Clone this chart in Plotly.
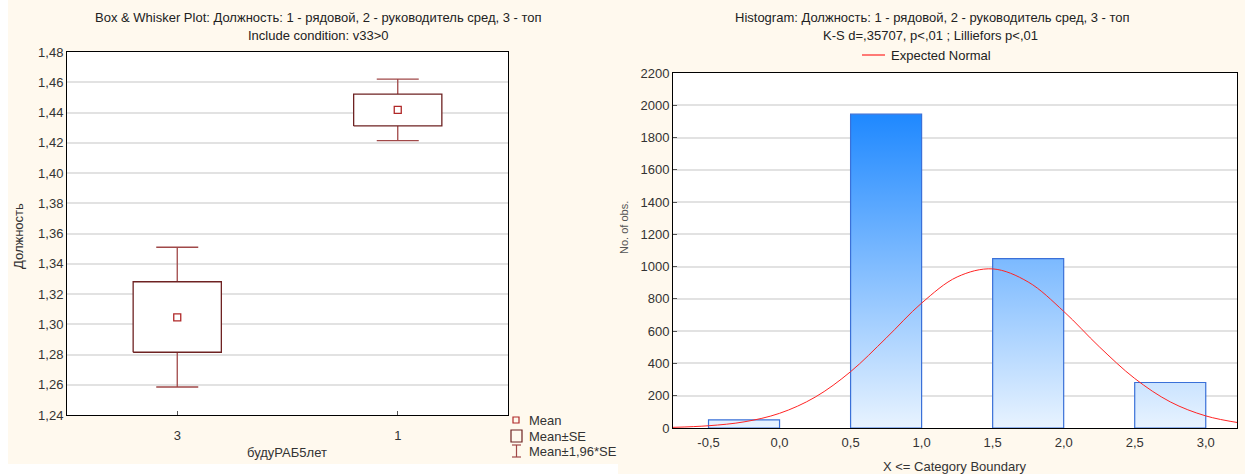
import plotly.graph_objects as go

W, H = 1245, 474

# ---------------- data ----------------
box_categories = ["3", "1"]
box_means = [1.3046, 1.4417]
box_se_lo = [1.2815, 1.4311]
box_se_hi = [1.3281, 1.4522]
box_wh_lo = [1.2585, 1.4214]
box_wh_hi = [1.3509, 1.4620]
box_y_ticks = [1.24, 1.26, 1.28, 1.30, 1.32, 1.34, 1.36, 1.38, 1.40, 1.42, 1.44, 1.46, 1.48]

hist_lo = [-0.5, 0.5, 1.5, 2.5]
hist_hi = [0.0, 1.0, 2.0, 3.0]
hist_counts = [50, 1945, 1050, 282]
hist_x_ticks = [-0.5, 0.0, 0.5, 1.0, 1.5, 2.0, 2.5, 3.0]
hist_x_ticktext = ["-0,5", "0,0", "0,5", "1,0", "1,5", "2,0", "2,5", "3,0"]

normal_x = [-0.75, -0.5, -0.25, 0.0, 0.25, 0.5, 0.75, 1.0, 1.25, 1.5, 1.75,
            2.0, 2.25, 2.5, 2.75, 3.0, 3.25]
normal_y = [4, 14, 38, 91, 191, 349, 557, 774, 936, 986, 905,
            723, 504, 307, 162, 75, 30]

FONT = "Liberation Sans, Arial, sans-serif"
CREAM = "#FFF9EE"
BOX_C = "#6E2222"
WH_C = "#A04848"
MEAN_C = "#B02828"


def px(x):
    return x / W


def py(y):
    return 1 - y / H


fig = go.Figure()

# ---------- box & whisker (left) ----------
half = 0.2
xs, ys = [], []
for i in range(len(box_categories)):
    xs += [i - half, i + half, i + half, i - half, i - half, None]
    ys += [box_se_lo[i], box_se_lo[i], box_se_hi[i], box_se_hi[i], box_se_lo[i], None]

fig.add_trace(go.Scatter(
    x=list(range(len(box_categories))), y=box_means, mode="markers",
    marker=dict(size=1, color="rgba(0,0,0,0)"),
    error_y=dict(type="data", symmetric=False,
                 array=[h - m for h, m in zip(box_wh_hi, box_means)],
                 arrayminus=[m - l for m, l in zip(box_means, box_wh_lo)],
                 color=WH_C, thickness=1.3, width=21),
    xaxis="x", yaxis="y", showlegend=False, hoverinfo="skip"))

fig.add_trace(go.Scatter(
    x=xs, y=ys, mode="lines", fill="toself", fillcolor="white",
    line=dict(color=BOX_C, width=1.3), xaxis="x", yaxis="y",
    showlegend=False, hoverinfo="skip"))

fig.add_trace(go.Scatter(
    x=list(range(len(box_categories))), y=box_means, mode="markers",
    marker=dict(symbol="square-open", size=7, color=MEAN_C, line=dict(width=1.3)),
    xaxis="x", yaxis="y", showlegend=False))

# ---------- histogram (right) ----------
hx, hy = [], []
for lo, hi, c in zip(hist_lo, hist_hi, hist_counts):
    hx += [lo, lo, hi, hi, lo, None]
    hy += [0, c, c, 0, 0, None]

fig.add_trace(go.Scatter(
    x=hx, y=hy, mode="lines", fill="toself",
    fillgradient=dict(type="vertical", start=0, stop=1950,
                      colorscale=[[0, "#E8F3FF"], [1, "#1E88FF"]]),
    line=dict(color="#3A70D8", width=1.2),
    xaxis="x2", yaxis="y2", showlegend=False, hoverinfo="skip"))

fig.add_trace(go.Scatter(
    x=normal_x, y=normal_y, mode="lines", line=dict(color="#FF2424", width=1, shape="spline"),
    xaxis="x2", yaxis="y2", showlegend=False, name="Expected Normal"))

# ---------- layout ----------
axis_common = dict(showline=True, linecolor="#000", linewidth=1, mirror=True,
                   tickfont=dict(family=FONT, size=13, color="#333"), zeroline=False,
                   automargin=False)

fig.update_layout(
    width=W, height=H, margin=dict(l=0, r=0, t=0, b=0, pad=0, autoexpand=False),
    paper_bgcolor=CREAM, plot_bgcolor="white", showlegend=False,
    separators=",.", font=dict(family=FONT, size=13, color="#222"),
    xaxis=dict(domain=[px(67), px(508)], range=[-0.5, 1.5],
               tickvals=list(range(len(box_categories))), ticktext=box_categories,
               ticks="inside", ticklen=4, tickcolor="#555", showgrid=False,
               ticklabelstandoff=8, anchor="y", **axis_common),
    yaxis=dict(domain=[py(415), py(52)], range=[1.24, 1.48],
               tickvals=box_y_ticks, tickformat=".2f", ticks="",
               showgrid=True, gridcolor="#E2E2E2", gridwidth=1.5, anchor="x",
               **axis_common),
    xaxis2=dict(domain=[px(673), px(1237)], range=[-0.75, 3.22],
                tickvals=hist_x_ticks, ticktext=hist_x_ticktext,
                ticks="", showgrid=False, anchor="y2", ticklabelstandoff=2,
                **axis_common),
    yaxis2=dict(domain=[py(428), py(73)], range=[0, 2200], dtick=200,
                ticks="inside", ticklen=4, tickcolor="#555",
                showgrid=True, gridcolor="#E2E2E2", gridwidth=1.5, anchor="x2",
                **axis_common),
)

ann = []


def text(x, y, s, size=13, color="#222", angle=0, xanchor="center"):
    ann.append(dict(x=px(x), y=py(y), xref="paper", yref="paper", text=s, showarrow=False,
                    font=dict(family=FONT, size=size, color=color), textangle=angle,
                    xanchor=xanchor, yanchor="middle"))


text(318, 17, "Box & Whisker Plot: Должность: 1 - рядовой, 2 - руководитель сред, 3 - топ")
text(318, 36, "Include condition: v33&gt;0")
text(287, 452, "будуРАБ5лет", color="#333")
text(18, 236, "Должность", color="#333", angle=-90)

text(932, 17, "Histogram: Должность: 1 - рядовой, 2 - руководитель сред, 3 - топ")
text(930, 36, "K-S d=,35707, p&lt;,01 ; Lilliefors p&lt;,01")
text(889, 55, "Expected Normal", xanchor="left")
text(955, 466, "X &lt;= Category Boundary", color="#333")
text(624, 228, "No. of obs.", color="#555", angle=-90, size=11)

text(527, 420, "Mean", color="#333", xanchor="left")
text(527, 436, "Mean±SE", color="#333", xanchor="left")
text(527, 451, "Mean±1,96*SE", color="#333", xanchor="left")

fig.update_layout(annotations=ann)

shapes = []


def rect(x0, y0, x1, y1, line=None, fill=None, lw=1, layer="above"):
    shapes.append(dict(type="rect", xref="paper", yref="paper", x0=px(x0), x1=px(x1),
                       y0=py(y1), y1=py(y0), line=dict(color=line or "rgba(0,0,0,0)", width=lw),
                       fillcolor=fill or "rgba(0,0,0,0)", layer=layer))


def line(x0, y0, x1, y1, color, lw=1):
    shapes.append(dict(type="line", xref="paper", yref="paper", x0=px(x0), x1=px(x1),
                       y0=py(y0), y1=py(y1), line=dict(color=color, width=lw)))


rect(0, 0, 8, 474, fill="white", lw=0, layer="below")
rect(0, 464, 618, 474, fill="white", lw=0, layer="below")

rect(513, 417, 519, 423, line=MEAN_C, lw=1.2)
rect(511, 430, 522, 442, line=BOX_C, lw=1.2)
line(516.5, 445, 516.5, 457, WH_C, 1.2)
line(512, 445, 521, 445, WH_C, 1.2)
line(512, 457, 521, 457, WH_C, 1.2)
line(862, 55, 885, 55, "#FF2424", 1.2)

fig.update_layout(shapes=shapes)

fig.write_html("out.html")
